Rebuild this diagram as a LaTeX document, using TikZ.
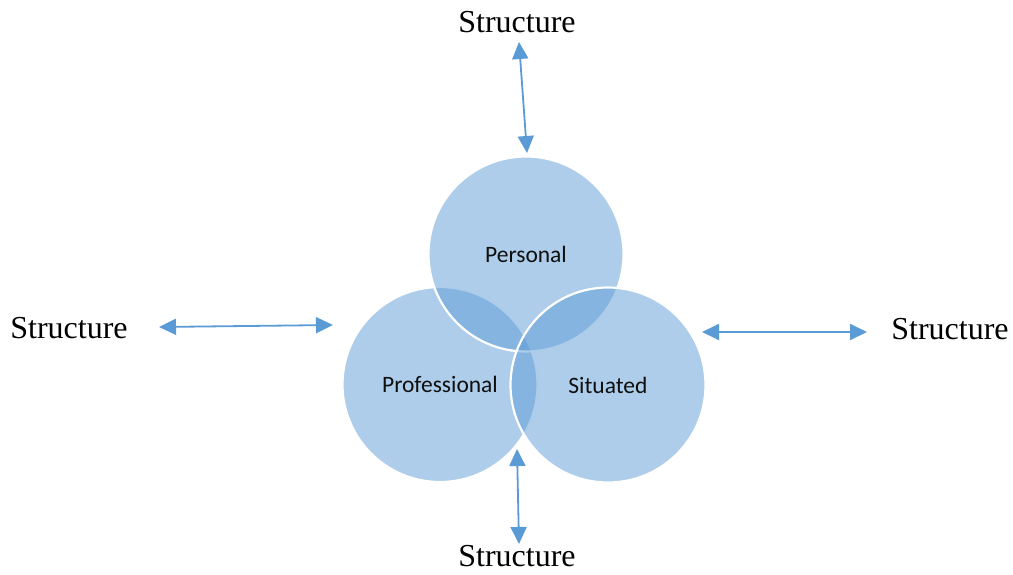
\documentclass[tikz,border=0pt]{standalone}
\usepackage{fontspec}
\setmainfont{Liberation Serif}
\newfontfamily\labelfont{Carlito}
\usetikzlibrary{arrows.meta}
\definecolor{ringblue}{RGB}{91,155,213}
\definecolor{labelink}{RGB}{15,15,15}
\begin{document}
\begin{tikzpicture}[x=1pt,y=-1pt,
  ring/.style={circle, minimum size=195pt, inner sep=0pt, fill=ringblue, fill opacity=0.5,
               text opacity=1, draw=white, line width=2.2pt, text=labelink,
               font=\labelfont\fontsize{23.5}{27}\selectfont},
  structlabel/.style={inner sep=0pt, font=\fontsize{32}{36}\selectfont},
  link/.style={draw=ringblue, line width=1.8pt,
               {Triangle[length=17pt,width=16pt]}-{Triangle[length=17pt,width=16pt]}}]
  \useasboundingbox (0,0) rectangle (1013,574);

  % three overlapping circles, drawn bottom to top
  \node[ring] (professional) at (440,384.5) {Professional};
  \node[ring] (personal)     at (526,254)   {Personal};
  \node[ring] (situated)     at (608,385)   {Situated};

  % the four "Structure" labels
  \node[structlabel] (stop)    at (517,22)  {Structure};
  \node[structlabel] (sleft)   at (69,328)  {Structure};
  \node[structlabel] (sright)  at (950,329) {Structure};
  \node[structlabel] (sbottom) at (517,556) {Structure};

  % arrow end points
  \coordinate (t1) at (519,42);
  \coordinate (t2) at (527,153);
  \coordinate (l1) at (159,327);
  \coordinate (l2) at (333,325);
  \coordinate (r1) at (702,332);
  \coordinate (r2) at (867,332);
  \coordinate (b1) at (517,449);
  \coordinate (b2) at (519,544);

  \draw[link] (t1) -- (t2);
  \draw[link] (l1) -- (l2);
  \draw[link] (r1) -- (r2);
  \draw[link] (b1) -- (b2);
\end{tikzpicture}
\end{document}
